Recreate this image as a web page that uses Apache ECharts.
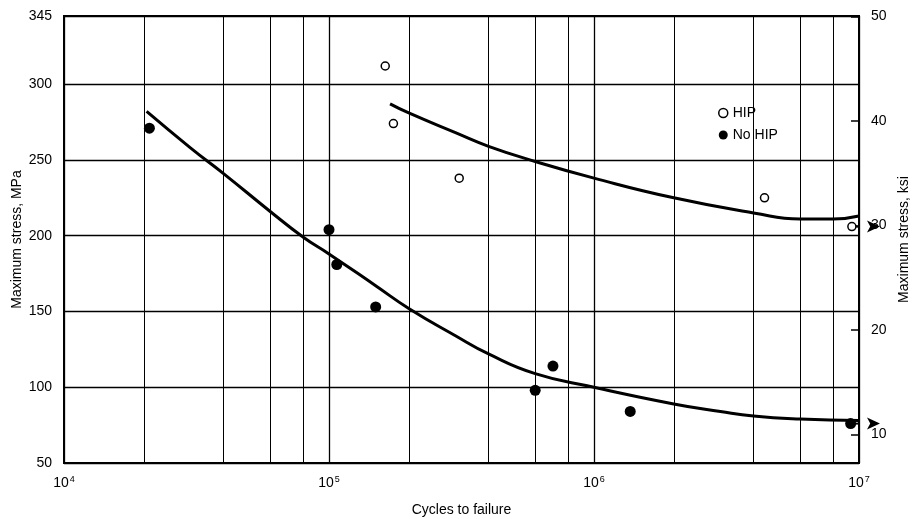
<!DOCTYPE html>
<html>
<head>
<meta charset="utf-8">
<script src="https://cdn.jsdelivr.net/npm/echarts@6/dist/echarts.min.js"></script>
<style>
  html, body { margin: 0; padding: 0; background: #fff; }
  #chart { width: 912px; height: 519px; }
</style>
</head>
<body>
<div id="chart"></div>
<script>
// Axis ranges and tick settings
const MPA_PER_KSI = 6.894757;
const stressMin = 50, stressMax = 345, stressStep = 50;
const cyclesMin = 1e4, cyclesMax = 1e7;
const minorCycleGrid = [2e4, 4e4, 6e4, 8e4, 2e5, 4e5, 6e5, 8e5, 2e6, 4e6, 6e6, 8e6];
const ksiTicks = [10, 20, 30, 40, 50];

// Test results: cycles to failure and maximum stress (MPa)
const hipCycles = [1.63e5, 1.75e5, 3.1e5, 4.4e6];
const hipStress = [312, 274, 238, 225];
const hipRunout = [9.4e6, 206];

const noHipCycles = [2.1e4, 1.0e5, 1.07e5, 1.5e5, 6.0e5, 7.0e5, 1.37e6];
const noHipStress = [271, 204, 181, 153, 98, 114, 84];
const noHipRunout = [9.3e6, 76];

// Fitted S-N curves
const hipCurveCycles = [1.7e5, 2e5, 3e5, 4e5, 6e5, 1e6, 2e6, 4e6, 6e6, 8e6, 1e7];
const hipCurveStress = [287, 281, 268, 259, 249, 238, 225, 215, 211, 211, 213];
const noHipCurveCycles = [2.05e4, 3e4, 4e4, 6e4, 8e4, 1e5, 1.5e5, 2e5, 3e5, 4e5, 6e5, 1e6, 2e6, 3e6, 4e6, 6e6, 1e7];
const noHipCurveStress = [282, 258, 241, 216, 199, 188, 167, 152, 134, 122, 109, 100, 89, 84, 81, 79, 78];

const runoutArrowEnd = 1.2e7;

const zip = (xs, ys) => xs.map((x, i) => [x, ys[i]]);

const tickFont = "'Liberation Sans Narrow', 'Liberation Sans', Arial, sans-serif";
const textFont = "'Liberation Sans', Arial, sans-serif";

function runoutArrow(pt) {
  return {
    type: 'line',
    clip: false,
    silent: true,
    z: 4,
    symbolSize: [9, 13],
    lineStyle: { color: '#000', width: 2 },
    itemStyle: { color: '#000', opacity: 1 },
    data: [
      { value: [pt[0], pt[1]], symbol: 'none' },
      { value: [runoutArrowEnd, pt[1]], symbol: 'arrow', symbolRotate: -90 }
    ]
  };
}

const chart = echarts.init(document.getElementById('chart'), null, { renderer: 'canvas' });

chart.setOption({
  animation: false,
  backgroundColor: '#fff',
  grid: {
    left: 64, right: 53, top: 16, bottom: 56,
    outerBoundsMode: 'none',
    containLabel: false,
    show: true, borderColor: '#000', borderWidth: 2, backgroundColor: 'transparent'
  },
  legend: {
    orient: 'vertical',
    left: 713, top: 101,
    itemWidth: 9, itemHeight: 9, itemGap: 8,
    textStyle: { color: '#000', fontSize: 14, fontFamily: textFont },
    data: [
      { name: 'HIP', icon: 'circle', itemStyle: { color: '#fff', borderColor: '#000', borderWidth: 1.5, opacity: 1 } },
      { name: 'No HIP', icon: 'circle', itemStyle: { color: '#000', borderWidth: 0, opacity: 1 } }
    ]
  },
  xAxis: {
    type: 'log',
    logBase: 10,
    min: cyclesMin, max: cyclesMax,
    name: 'Cycles to failure',
    nameLocation: 'middle',
    nameGap: 40,
    nameTextStyle: { color: '#000', fontSize: 14, fontFamily: textFont },
    axisLine: { show: true, lineStyle: { color: '#000', width: 2 } },
    axisTick: { show: false },
    axisLabel: {
      color: '#000', margin: 12,
      fontFamily: tickFont, fontSize: 14,
      formatter: v => '10{s|' + Math.round(Math.log10(v)) + '}',
      rich: { s: { fontSize: 9, fontFamily: tickFont, color: '#000', verticalAlign: 'top', padding: [0, 0, 7, 1] } }
    },
    splitLine: { show: true, lineStyle: { color: '#000', width: 1.3 } }
  },
  yAxis: [
    {
      type: 'value',
      min: stressMin, max: stressMax, interval: stressStep,
      name: 'Maximum stress, MPa',
      nameLocation: 'middle',
      nameGap: 40,
      nameMoveOverlap: false,
      nameTextStyle: { color: '#000', fontSize: 14, fontFamily: textFont },
      axisLine: { show: true, lineStyle: { color: '#000', width: 2 } },
      axisTick: { show: false },
      axisLabel: { color: '#000', margin: 12, fontFamily: tickFont, fontSize: 14 },
      splitLine: { show: true, lineStyle: { color: '#000', width: 1.3 } }
    },
    {
      type: 'value',
      position: 'right',
      min: stressMin / MPA_PER_KSI, max: stressMax / MPA_PER_KSI,
      name: 'Maximum stress, ksi',
      nameLocation: 'middle',
      nameGap: 38,
      nameRotate: 90,
      nameTextStyle: { color: '#000', fontSize: 14, fontFamily: textFont },
      axisLine: { show: true, lineStyle: { color: '#000', width: 2 } },
      axisTick: { show: true, inside: true, length: 8, customValues: ksiTicks, lineStyle: { color: '#000', width: 1.5 } },
      axisLabel: { color: '#000', margin: 12, fontFamily: tickFont, fontSize: 14, customValues: ksiTicks },
      splitLine: { show: false }
    }
  ],
  series: [
    {
      type: 'line',
      name: 'HIP curve',
      smooth: true,
      showSymbol: false,
      silent: true,
      z: 3,
      lineStyle: { color: '#000', width: 3 },
      data: zip(hipCurveCycles, hipCurveStress),
      markLine: {
        silent: true,
        symbol: ['none', 'none'],
        label: { show: false },
        lineStyle: { color: '#000', width: 1, type: 'solid' },
        emphasis: { disabled: true },
        data: minorCycleGrid.map(c => ({ xAxis: c }))
      }
    },
    {
      type: 'line',
      name: 'No HIP curve',
      smooth: true,
      showSymbol: false,
      silent: true,
      z: 3,
      lineStyle: { color: '#000', width: 3 },
      data: zip(noHipCurveCycles, noHipCurveStress)
    },
    runoutArrow(hipRunout),
    runoutArrow(noHipRunout),
    {
      type: 'scatter',
      name: 'HIP',
      z: 5,
      clip: false,
      symbol: 'circle',
      symbolSize: 8,
      itemStyle: { color: '#fff', borderColor: '#000', borderWidth: 1.5, opacity: 1 },
      data: zip(hipCycles, hipStress).concat([hipRunout])
    },
    {
      type: 'scatter',
      name: 'No HIP',
      z: 5,
      clip: false,
      symbol: 'circle',
      symbolSize: 11,
      itemStyle: { color: '#000', opacity: 1 },
      data: zip(noHipCycles, noHipStress).concat([noHipRunout])
    }
  ]
});
</script>
</body>
</html>
